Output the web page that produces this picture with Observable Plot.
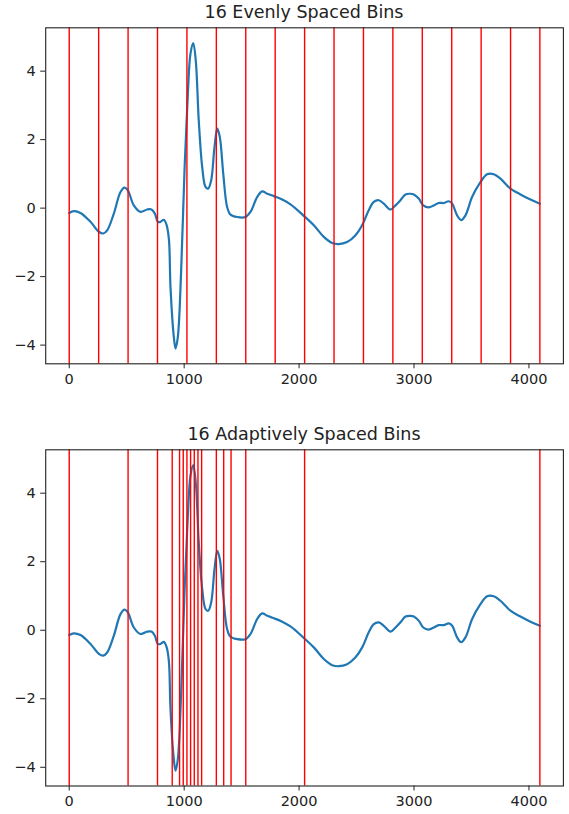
<!DOCTYPE html>
<html>
<head>
<meta charset="utf-8">
<script src="https://cdn.jsdelivr.net/npm/d3@7"></script>
<script src="https://cdn.jsdelivr.net/npm/@observablehq/plot@0.6"></script>
<style>
  html, body { margin: 0; padding: 0; background: white; }
  #wrap { position: relative; width: 569px; height: 814px; overflow: hidden; background: white; }
  .title { position: absolute; left: 0; width: 608px; text-align: center; font-family: "DejaVu Sans", sans-serif; font-size: 17.5px; line-height: 17.5px; color: #222; white-space: nowrap; }
  .panel { position: absolute; left: 0; }
</style>
</head>
<body>
<div id="wrap">
  <div id="p1" class="panel" style="top:0px"></div>
  <div id="p2" class="panel" style="top:410px"></div>
  <div id="t1" class="title" style="top:3.8px"></div>
  <div id="t2" class="title" style="top:425.8px"></div>
</div>
<script>
// ---- data ----
const titles = ["16 Evenly Spaced Bins", "16 Adaptively Spaced Bins"];
const signalX = [0, 40, 98, 185, 258, 296, 330, 388, 446, 481, 510, 562, 620, 678, 716, 745, 771, 794, 823, 846, 867, 881, 910, 925, 945, 974, 1003, 1032, 1055, 1079, 1101, 1127, 1157, 1186, 1209, 1235, 1264, 1288, 1310, 1340, 1374, 1403, 1462, 1534, 1577, 1636, 1679, 1723, 1780, 1853, 1925, 2036, 2128, 2215, 2288, 2345, 2418, 2491, 2549, 2606, 2650, 2693, 2737, 2795, 2839, 2882, 2926, 2969, 2998, 3041, 3080, 3128, 3172, 3215, 3259, 3302, 3332, 3375, 3410, 3448, 3506, 3578, 3636, 3694, 3752, 3839, 3926, 4013, 4095];
const signalY = [-0.14, -0.09, -0.14, -0.40, -0.69, -0.74, -0.65, -0.16, 0.47, 0.60, 0.52, 0.08, -0.11, -0.04, -0.04, -0.16, -0.40, -0.40, -0.34, -0.48, -0.90, -2.30, -3.76, -4.10, -3.76, -1.81, 1.10, 3.34, 4.51, 4.82, 4.31, 2.56, 1.20, 0.62, 0.57, 0.81, 1.78, 2.32, 2.08, 1.01, 0.03, -0.19, -0.26, -0.26, -0.11, 0.33, 0.49, 0.42, 0.35, 0.25, 0.11, -0.21, -0.50, -0.84, -1.02, -1.05, -0.99, -0.79, -0.50, -0.06, 0.18, 0.23, 0.13, -0.04, 0.08, 0.23, 0.40, 0.42, 0.40, 0.28, 0.08, 0.02, 0.08, 0.15, 0.15, 0.20, 0.13, -0.21, -0.35, -0.21, 0.33, 0.76, 0.99, 0.99, 0.86, 0.57, 0.40, 0.25, 0.13];
const evenEdges = [0, 256, 512, 768, 1024, 1280, 1536, 1792, 2048, 2304, 2560, 2816, 3072, 3328, 3584, 3840, 4095];
const adaptiveEdges = [0, 512, 768, 896, 960, 992, 1024, 1056, 1088, 1120, 1152, 1280, 1344, 1408, 1536, 2048, 4095];
const xTicks = [0, 1000, 2000, 3000, 4000];
const yTicks = [-4, -2, 0, 2, 4];

// ---- chart ----
const signal = signalX.map((x, i) => ({x, y: signalY[i]}));
const fmt = d => d < 0 ? "\u2212" + Math.abs(d) : String(d);
const textColor = "#222";

function panel(edges, height, mTop, mBottom) {
  return Plot.plot({
    width: 569,
    height: height,
    marginLeft: 45.2,
    marginRight: 6.1,
    marginTop: mTop,
    marginBottom: mBottom,
    style: {fontFamily: "DejaVu Sans, sans-serif", fontSize: "14.5px", color: textColor, background: "white", overflow: "visible"},
    x: {domain: [-204.75, 4299.75]},
    y: {domain: [-4.546, 5.266]},
    marks: [
      Plot.line(signal, {x: "x", y: "y", stroke: "#1f77b4", strokeWidth: 2.2, curve: "catmull-rom"}),
      Plot.ruleX(edges, {stroke: "red", strokeWidth: 1.4}),
      Plot.frame({stroke: textColor, strokeWidth: 1.1}),
      Plot.axisX(xTicks, {tickSize: 5, tickPadding: 5, tickFormat: fmt, label: null, stroke: textColor, fill: textColor}),
      Plot.axisY(yTicks, {tickSize: 5, tickPadding: 5, tickFormat: fmt, label: null, stroke: textColor, fill: textColor})
    ]
  });
}

document.getElementById("p1").appendChild(panel(evenEdges, 405, 27.3, 41.7));
document.getElementById("p2").appendChild(panel(adaptiveEdges, 404, 39.3, 28.5));
document.getElementById("t1").textContent = titles[0];
document.getElementById("t2").textContent = titles[1];
</script>
</body>
</html>
